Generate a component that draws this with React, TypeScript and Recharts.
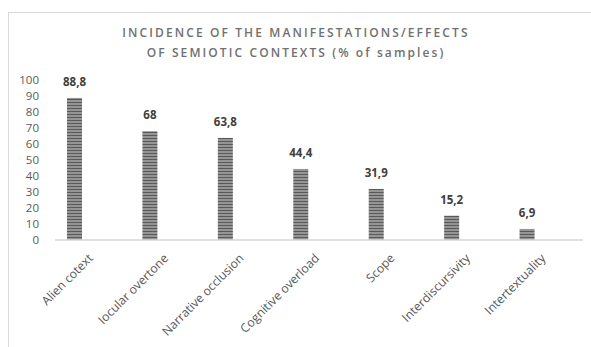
import { BarChart, Bar, XAxis, YAxis, LabelList } from 'recharts'

const categories = [
  'Alien cotext',
  'Iocular overtone',
  'Narrative occlusion',
  'Cognitive overload',
  'Scope',
  'Interdiscursivity',
  'Intertextuality',
]
const values = [88.8, 68, 63.8, 44.4, 31.9, 15.2, 6.9]
const yTicks = [0, 10, 20, 30, 40, 50, 60, 70, 80, 90, 100]
const titleLines = ['INCIDENCE OF THE MANIFESTATIONS/EFFECTS', 'OF SEMIOTIC CONTEXTS (% of samples)']

const data = categories.map((name, i) => ({ name, value: values[i] }))

const font = '"Open Sans", "Liberation Sans", sans-serif'
// bars sit left of the category centre, as in the original Excel chart
const BAR_SHIFT = -18

const XTick = (props: any) => {
  const { x, y, payload } = props
  return (
    <text
      x={x + 1}
      y={y + 11}
      transform={`rotate(-45, ${x + 1}, ${y + 11})`}
      textAnchor="end"
      fontSize={12.2}
      fontFamily={font}
      fill="#595959"
    >
      {payload.value}
    </text>
  )
}

const YTick = (props: any) => {
  const { y, payload } = props
  return (
    <text x={39} y={y + 4} textAnchor="end" fontSize={11.5} fontFamily={font} fill="#595959">
      {payload.value}
    </text>
  )
}

const ShiftedBar = (props: any) => {
  const { x, y, width, height, fill } = props
  return <rect x={x + BAR_SHIFT} y={y} width={width} height={height} fill={fill} />
}

const ValueLabel = (props: any) => {
  const { x, y, width, value } = props
  return (
    <text
      x={x + width / 2 + BAR_SHIFT}
      y={y - 12}
      textAnchor="middle"
      fontSize={11.5}
      fontWeight={700}
      fontFamily={font}
      fill="#404040"
    >
      {String(value).replace('.', ',')}
    </text>
  )
}

export default function App() {
  return (
    <div style={{ position: 'absolute', left: 0, top: 0, width: 591, height: 347, background: '#fff' }}>
      <svg width={591} height={347} style={{ position: 'absolute', left: 0, top: 0 }}>
        <rect x={8.5} y={12.5} width={600} height={400} fill="none" stroke="#d9d9d9" />
        {titleLines.map((t, i) => (
          <text
            key={i}
            x={296}
            y={36.5 + i * 20.5}
            textAnchor="middle"
            fontSize={12}
            fontWeight={600}
            letterSpacing={2.1}
            fontFamily={font}
            fill="#707070"
          >
            {t}
          </text>
        ))}
      </svg>
      <div style={{ position: 'absolute', left: 0, top: 0 }}>
        <BarChart
          width={591}
          height={347}
          data={data}
          margin={{ top: 80, right: 8, bottom: 0, left: 0 }}
        >
          <defs>
            <pattern id="stripes" width={4} height={3} patternUnits="userSpaceOnUse">
              <rect width={4} height={3} fill="#959595" />
              <rect width={4} height={1} fill="#5a5a5a" />
            </pattern>
          </defs>
          <XAxis
            dataKey="name"
            interval={0}
            height={107}
            tickLine={false}
            axisLine={{ stroke: '#d6d6d6', strokeWidth: 1.5 }}
            tick={<XTick />}
          />
          <YAxis
            width={55}
            domain={[0, 100]}
            ticks={yTicks}
            interval={0}
            axisLine={false}
            tickLine={false}
            tick={<YTick />}
          />
          <Bar
            dataKey="value"
            fill="url(#stripes)"
            barSize={15}
            shape={<ShiftedBar />}
            isAnimationActive={false}
          >
            <LabelList dataKey="value" content={<ValueLabel />} />
          </Bar>
        </BarChart>
      </div>
    </div>
  )
}
